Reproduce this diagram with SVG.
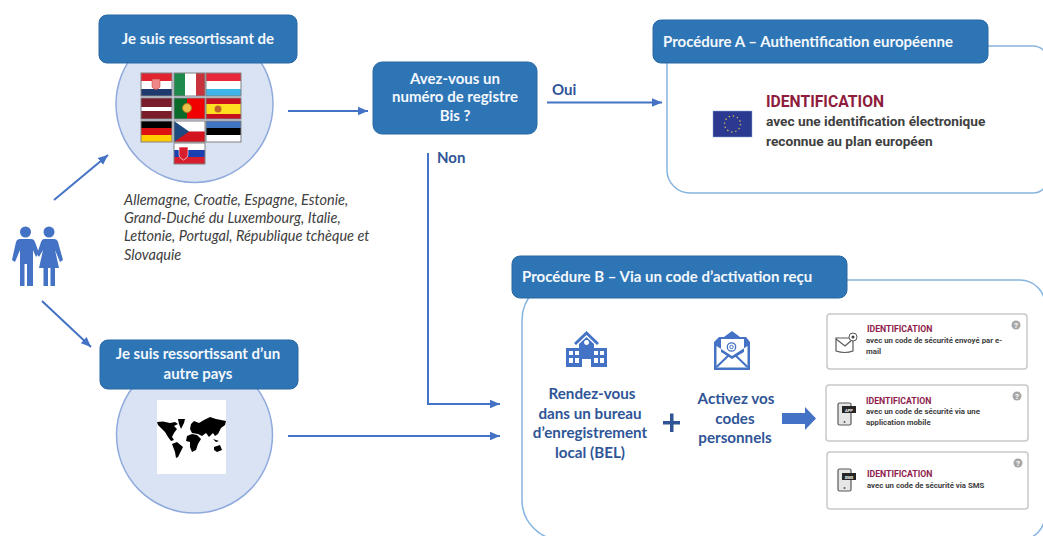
<svg xmlns="http://www.w3.org/2000/svg" width="1043" height="536" viewBox="0 0 1043 536">
<style>
text{font-family:Lato,"Open Sans",sans-serif}
.hd{fill:#2e75b6;stroke:#2a68a3;stroke-width:1}
.ht{fill:#f4f8fc;font-weight:700;font-size:15px}
.ct{text-anchor:middle}
.circ{fill:#dae3f3;stroke:#8faadc;stroke-width:1.5}
.panel{fill:#fff;stroke:#86b4e0;stroke-width:1.5}
.con{fill:none;stroke:#4472c4;stroke-width:2}
.lbl{fill:#2f5597;font-weight:700;font-size:15px}
.blue{fill:#2f5597;font-weight:700;font-size:15.200px;text-anchor:middle}
.ital{fill:#404040;font-style:italic;font-size:14.500px}
.card{fill:#fff;stroke:#c9c9c9;stroke-width:1.5}
.cid{fill:#8e1c4c;font-weight:700;font-size:8.700px;font-family:Roboto,sans-serif}
.csub{fill:#404040;font-weight:700;font-size:7.800px;font-family:Roboto,sans-serif}
.q{fill:#a6a6a6}
.qt{fill:#fff;font-size:8px;font-weight:700;text-anchor:middle;font-family:Roboto,sans-serif}
.ic{fill:#4472c4}
.flagb{fill:none;stroke:#808080;stroke-width:1}
.dev{fill:#e6e6e6;stroke:#595959;stroke-width:1.2}
.bt{fill:#fff;font-size:4px;font-weight:700;text-anchor:middle;font-family:Roboto,sans-serif}
</style>
<defs>
<marker id="ah" markerWidth="5" markerHeight="5" refX="7" refY="3" orient="auto" markerUnits="strokeWidth" viewBox="0 0 7 6"><path d="M0 0L7 3L0 6Z" fill="#4472c4"/></marker>
</defs>

<g id="panel-a"><path class="panel" d="M690 46H1033A15 15 0 0 1 1048 61V178A15 15 0 0 1 1033 193H690A23 23 0 0 1 667 170V60Z"/></g>
<g id="panel-b"><path class="panel" d="M562 280H1020A25 25 0 0 1 1045 305V515A25 25 0 0 1 1020 540H562A40 40 0 0 1 522 500V320A40 40 0 0 1 562 280Z"/></g>

<g id="connectors">
<path class="con" marker-end="url(#ah)" d="M54 200L108 155"/>
<path class="con" marker-end="url(#ah)" d="M42 301L91 347"/>
<path class="con" marker-end="url(#ah)" d="M288 111H368"/>
<path class="con" marker-end="url(#ah)" d="M547 102.500H662"/>
<path class="con" marker-end="url(#ah)" d="M428 153V404H500"/>
<path class="con" marker-end="url(#ah)" d="M288 436H500"/>
</g>

<g id="people">
<circle class="ic" cx="25.500" cy="232" r="5.500"/>
<path class="ic" d="M20 239H31Q34 239 35 242L39 253L36 257L33 250V286H27V264H24.500V286H20V250L15 262L12 260L16 242Q17 239 20 239Z"/>
<circle class="ic" cx="49" cy="232" r="5.500"/>
<path class="ic" d="M44 239H54Q57 239 58 242L63 260L60 262L55 250L59 268H55V286H50.500V268H48V286H43.500V268H39L43 250L39 257L37 254L41 242Q42 239 44 239Z"/>
</g>

<g id="node-eu">
<circle class="circ" cx="194.500" cy="104" r="78.500"/>
<g id="flags">
<rect x="141" y="73" width="31" height="8" fill="#e1242f"/><rect x="141" y="81" width="31" height="8" fill="#fff"/><rect x="141" y="89" width="31" height="7" fill="#1f3a6e"/><path d="M152 79H160V87Q156 92 152 87Z" fill="#e88" stroke="#c33" stroke-width=".5"/><rect class="flagb" x="141" y="73" width="31" height="23"/>
<rect x="174" y="73" width="11" height="23" fill="#1e8a4c"/><rect x="185" y="73" width="11" height="23" fill="#fff"/><rect x="196" y="73" width="9" height="23" fill="#c8323c"/><rect class="flagb" x="174" y="73" width="31" height="23"/>
<rect x="206" y="73" width="35" height="8" fill="#e8283a"/><rect x="206" y="81" width="35" height="8" fill="#fff"/><rect x="206" y="89" width="35" height="7" fill="#3eb4e8"/><rect class="flagb" x="206" y="73" width="35" height="23"/>
<rect x="141" y="98" width="31" height="21" fill="#7b1c2a"/><rect x="141" y="107" width="31" height="4" fill="#fff"/><rect class="flagb" x="141" y="98" width="31" height="21"/>
<rect x="174" y="98" width="31" height="21" fill="#f00000"/><rect x="174" y="98" width="13" height="21" fill="#0a6a2a"/><circle cx="187" cy="108" r="4.500" fill="#e8c04a" stroke="#b08020"/><rect class="flagb" x="174" y="98" width="31" height="21"/>
<rect x="206" y="98" width="35" height="21" fill="#c80f1e"/><rect x="206" y="104" width="35" height="10" fill="#ffe020"/><circle cx="218" cy="109" r="3.500" fill="#c0642a"/><rect class="flagb" x="206" y="98" width="35" height="21"/>
<rect x="141" y="121" width="31" height="7" fill="#000"/><rect x="141" y="128" width="31" height="7" fill="#dd1111"/><rect x="141" y="135" width="31" height="7" fill="#ffcc00"/><rect class="flagb" x="141" y="121" width="31" height="21"/>
<rect x="174" y="121" width="31" height="10.500" fill="#fff"/><rect x="174" y="131.500" width="31" height="10.500" fill="#d3141e"/><path d="M174 121L189 131.500L174 142Z" fill="#1f4a80"/><rect class="flagb" x="174" y="121" width="31" height="21"/>
<rect x="206" y="121" width="35" height="7" fill="#3e74c0"/><rect x="206" y="128" width="35" height="7" fill="#000"/><rect x="206" y="135" width="35" height="7" fill="#fff"/><rect class="flagb" x="206" y="121" width="35" height="21"/>
<rect x="174" y="143" width="31" height="7" fill="#fff"/><rect x="174" y="150" width="31" height="7" fill="#1a3fb0"/><rect x="174" y="157" width="31" height="7" fill="#d81e2e"/><path d="M179 147H188V155Q188 158 183.500 160Q179 158 179 155Z" fill="#d81e2e" stroke="#fff" stroke-width=".6"/><rect class="flagb" x="174" y="143" width="31" height="21"/>
</g>
<rect class="hd" x="99" y="15" width="198" height="48" rx="8"/>
<text class="ht ct" x="198" y="44">Je suis ressortissant de</text>
</g>

<g id="countries">
<text class="ital"><tspan x="124" y="205">Allemagne, Croatie, Espagne, Estonie,</tspan><tspan x="124" y="223">Grand-Duché du Luxembourg, Italie,</tspan><tspan x="124" y="241">Lettonie, Portugal, République tchèque et</tspan><tspan x="124" y="260">Slovaquie</tspan></text>
</g>

<g id="node-other">
<circle class="circ" cx="194.500" cy="435" r="78"/>
<rect x="157" y="400" width="69" height="74" fill="#fff"/>
<g id="world" fill="#000">
<path d="M157 422L163 421.500L170 423L175 422L178 424L174 426L177 429L174 433L172 437L174 440L171 441L168 437L165 432L161 428L158 425Z"/>
<path d="M178 419H185L184 423L181 429L179 424Z"/>
<path d="M172 444L177 442L183 447L181 451L178 457L176 458L175 452Z"/>
<path d="M187 436L192 434L197 435L201 439L198 444L196 450L192 452L190 447L190 442L186 441Z"/>
<path d="M191 424L194 421L199 423L204 420L210 417L216 419L226 421L225 425L221 428L218 434L215 436L213 433L209 437L206 433L202 436L198 434L192 433L190 429Z"/>
<path d="M214 447L220 445L222 450L217 452L214 450Z"/>
<path d="M213 439L219 441L216 442Z"/>
</g>
</g>

<g id="node-question">
<rect class="hd" x="373" y="62" width="164" height="72" rx="9"/>
<text class="ht ct"><tspan x="455" y="84">Avez-vous un</tspan><tspan x="455" y="102">numéro de registre</tspan><tspan x="455" y="121">Bis ?</tspan></text>
</g>
<text class="lbl" x="552" y="95">Oui</text>
<text class="lbl" x="437" y="163">Non</text>

<g id="proc-a">
<rect class="hd" x="653" y="20" width="335" height="43" rx="8"/>
<text class="ht" x="663" y="47">Procédure A – Authentification européenne</text>
<rect x="713" y="111" width="39" height="26" fill="#2b3990" stroke="#8faadc" stroke-width=".5"/>
<circle cx="732.500" cy="124" r="8" fill="none" stroke="#d8c050" stroke-width="1.300" stroke-dasharray="1.300 2.900"/>
<text x="766" y="107" fill="#8e1c3c" font-weight="700" font-size="15.700px" style="font-family:Roboto,sans-serif">IDENTIFICATION</text>
<text x="766" y="126" fill="#404040" font-weight="700" font-size="13.700px" style="font-family:Roboto,sans-serif">avec une identification électronique</text>
<text x="766" y="146" fill="#404040" font-weight="700" font-size="13.700px" style="font-family:Roboto,sans-serif">reconnue au plan européen</text>
</g>

<g id="proc-b">
<rect class="hd" x="512" y="256" width="335" height="42" rx="8"/>
<text class="ht" x="522" y="282">Procédure B – Via un code d’activation reçu</text>
</g>

<g id="step-bel">
<path class="ic" d="M586.500 331L599 343L597 345L586.500 335L576 345L574 343Z"/>
<path class="ic" fill-rule="evenodd" d="M586.500 337L594 344V348H607V367H591V359H582V367H566V348H579V344ZM569 351V355H573V351ZM575 351V355H579V351ZM594 351V355H598V351ZM600 351V355H604V351ZM569 358V363H573V358ZM575 358V363H579V358ZM594 358V363H598V358ZM600 358V363H604V358ZM586.500 340A2.500 2.500 0 1 0 586.600 340Z"/>
<text class="blue"><tspan x="592" y="399">Rendez-vous</tspan><tspan x="590" y="419">dans un bureau</tspan><tspan x="590" y="438">d’enregistrement</tspan><tspan x="590" y="458">local (BEL)</tspan></text>
</g>
<path id="plus" fill="#2f5597" d="M670 413.500H673.500V421H680V424.500H673.500V432H670V424.500H663V421H670Z"/>
<g id="step-codes">
<path class="ic" fill-rule="evenodd" d="M732 331L740 337H746L750 342V370H714V342L719 337H724ZM721 339V352L732 359L744 352V339ZM716.500 346V367.500H747.500V346L732 356Z"/>
<path d="M716.500 367L729 355M747.500 367L735 355" stroke="#4472c4" stroke-width="2"/>
<circle cx="731.500" cy="347" r="4.200" fill="none" stroke="#4472c4" stroke-width="1.300"/>
<circle cx="731.500" cy="347" r="1.700" fill="none" stroke="#4472c4" stroke-width="1"/>
<text class="blue"><tspan x="736" y="404">Activez vos</tspan><tspan x="735" y="424">codes</tspan><tspan x="735" y="443">personnels</tspan></text>
</g>
<path id="big-arrow" fill="#4472c4" d="M782 413H805V407L816 418.500L805 430V424H782Z"/>

<g id="card-email">
<rect class="card" x="827" y="314" width="200" height="55" rx="3"/>
<text class="cid" x="867" y="332">IDENTIFICATION</text>
<text class="csub"><tspan x="866" y="343">avec un code de sécurité envoyé par e-</tspan><tspan x="866" y="354">mail</tspan></text>
<circle class="q" cx="1016" cy="325" r="4.500"/><text class="qt" x="1016" y="328">?</text>
<path d="M836 338H853V351Q845 354 836 351Z" fill="#fff" stroke="#595959" stroke-width="1.200"/><path d="M836 339L845 346L853 339" fill="none" stroke="#595959" stroke-width="1.200"/>
<circle cx="853" cy="337" r="4" fill="#fff" stroke="#595959"/><circle cx="853" cy="337" r="1.500" fill="#404040"/>
</g>
<g id="card-app">
<rect class="card" x="826" y="385" width="202" height="56" rx="3"/>
<text class="cid" x="866" y="404">IDENTIFICATION</text>
<text class="csub"><tspan x="866" y="414">avec un code de sécurité via une</tspan><tspan x="866" y="425">application mobile</tspan></text>
<circle class="q" cx="1017" cy="396" r="4.500"/><text class="qt" x="1017" y="399">?</text>
<rect class="dev" x="838" y="403" width="13" height="22" rx="1.500"/>
<rect x="842" y="406" width="14" height="7" fill="#262626"/><text class="bt" x="849" y="411.500">APP</text>
<circle cx="844.500" cy="422" r="1" fill="#595959"/>
</g>
<g id="card-sms">
<rect class="card" x="827" y="452" width="201" height="57" rx="3"/>
<text class="cid" x="867" y="477">IDENTIFICATION</text>
<text class="csub" x="867" y="488">avec un code de sécurité via SMS</text>
<circle class="q" cx="1018" cy="463" r="4.500"/><text class="qt" x="1018" y="466">?</text>
<rect class="dev" x="838" y="469" width="13" height="22" rx="1.500"/>
<rect x="842" y="473" width="14" height="7" fill="#262626"/><text class="bt" x="849" y="478.500">SMS</text>
<circle cx="844.500" cy="488" r="1" fill="#595959"/>
</g>

<g id="node-other-header">
<rect class="hd" x="100" y="340" width="198" height="49" rx="8"/>
<text class="ht ct"><tspan x="198" y="359">Je suis ressortissant d’un</tspan><tspan x="198" y="379">autre pays</tspan></text>
</g>
</svg>
